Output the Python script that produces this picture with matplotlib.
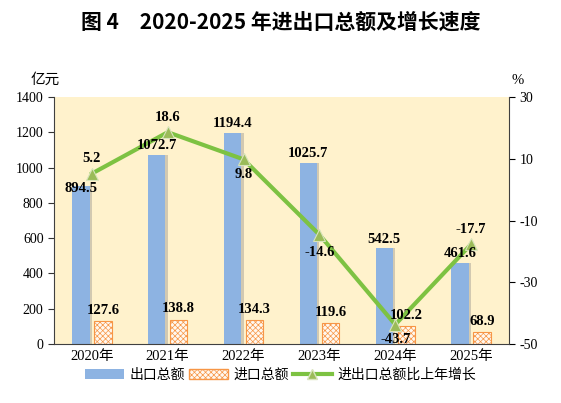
import matplotlib
matplotlib.use("Agg")
import matplotlib.pyplot as plt
import numpy as np
from matplotlib.lines import Line2D
from matplotlib.patches import Patch

years = ["2020年", "2021年", "2022年", "2023年", "2024年", "2025年"]
exports = [894.5, 1072.7, 1194.4, 1025.7, 542.5, 461.6]
imports = [127.6, 138.8, 134.3, 119.6, 102.2, 68.9]
growth = [5.2, 18.6, 9.8, -14.6, -43.7, -17.7]

CJK = ["Noto Sans CJK SC", "DejaVu Sans"]
SERIF = ["Liberation Serif", "Noto Sans CJK SC"]
plt.rcParams["font.family"] = SERIF
plt.rcParams["hatch.linewidth"] = 0.5
plt.rcParams["axes.unicode_minus"] = False

W, H = 561, 403
fig = plt.figure(figsize=(W / 100, H / 100), dpi=100)
L, R, T, B = 54, 509, 97, 344
ax = fig.add_axes([L / W, 1 - B / H, (R - L) / W, (B - T) / H])
ax.set_facecolor("#FFF2CC")

x = np.arange(len(years))
bw = 0.23
off = 0.145
blue = "#8DB3E2"
orange = "#F79646"

# shadows for blue bars
ax.bar(x - off + 0.03, exports, bw, color="#7f7f7f", alpha=0.35, zorder=1, linewidth=0)
ax.bar(x - off, exports, bw, color=blue, zorder=2, linewidth=0)
ax.bar(x + off, imports, bw, facecolor="#FFF8F0", edgecolor=orange, hatch="xxxxxx",
       linewidth=0.8, zorder=2)

ax.set_xlim(-0.5, 5.5)
ax.set_ylim(0, 1400)
ax.set_yticks(range(0, 1401, 200))
ax.set_xticks(x)
ax.set_xticklabels(years, fontsize=10.5)
ax.tick_params(axis="y", labelsize=10, direction="out", length=4, colors="#333333")
ax.tick_params(axis="x", length=0, pad=4)
for lab in ax.get_yticklabels():
    lab.set_color("black")
for s in ["top", "right"]:
    ax.spines[s].set_visible(False)
ax.spines["left"].set_color("#404040")
ax.spines["bottom"].set_color("#404040")

ax2 = ax.twinx()
ax2.set_ylim(-50, 30)
ax2.set_yticks([-50, -30, -10, 10, 30])
ax2.tick_params(axis="y", labelsize=10, direction="out", length=4)
for s in ["top", "left", "bottom"]:
    ax2.spines[s].set_visible(False)
ax2.spines["right"].set_color("#404040")
ax2.plot(x, growth, color="#7DC242", lw=3, marker="^", markersize=8,
         markerfacecolor="#9BBB59", markeredgecolor="#D8E4BC", markeredgewidth=0.8, zorder=5)

lbl = dict(fontsize=10.5, fontweight="bold", ha="center", family=SERIF)
exp_dy = [-6, 2, 2, 2, 2, 2]
for i, v in enumerate(exports):
    ax2.annotate(f"{v}", (x[i] - off, v), xycoords=ax.transData, xytext=(0, exp_dy[i]),
                 textcoords="offset points", va="bottom", zorder=7, **lbl)
for i, v in enumerate(imports):
    ax2.annotate(f"{v}", (x[i] + off, v), xycoords=ax.transData, xytext=(0, 3),
                 textcoords="offset points", va="bottom", zorder=7, **lbl)
goff = [(0, 6, "bottom"), (0, 6, "bottom"), (0, -6, "top"), (0, -8, "top"), (0, -6, "top"), (0, 6, "bottom")]
for i, v in enumerate(growth):
    dx, dy, va = goff[i]
    ax2.annotate(f"{v}", (x[i], v), xytext=(dx, dy), textcoords="offset points",
                 va=va, zorder=7, **lbl)

fig.text(L / W - 0.015, 1 - 80 / H, "亿元", fontsize=10.5, family=CJK, ha="center", va="center")
fig.text(R / W + 0.015, 1 - 80 / H, "%", fontsize=10.5, family=SERIF, ha="center", va="center")

fig.text(0.5, 1 - 22 / H, "图 4　2020-2025 年进出口总额及增长速度", fontsize=15,
         fontweight="bold", family=CJK, ha="center", va="center")

handles = [
    Patch(facecolor=blue, edgecolor="none", label="出口总额"),
    Patch(facecolor="#FFF8F0", edgecolor=orange, hatch="xxxxxx", label="进口总额"),
    Line2D([0], [0], color="#7DC242", lw=3, marker="^", markersize=7,
           markerfacecolor="#9BBB59", markeredgecolor="#D8E4BC", label="进出口总额比上年增长"),
]
fig.legend(handles=handles, loc="center", bbox_to_anchor=(0.5, 1 - 375 / H), ncol=3,
           frameon=False, prop={"family": CJK, "size": 10}, handlelength=2.8,
           handletextpad=0.4, columnspacing=0.3, handleheight=0.8)

fig.savefig("out.png", dpi=100)
